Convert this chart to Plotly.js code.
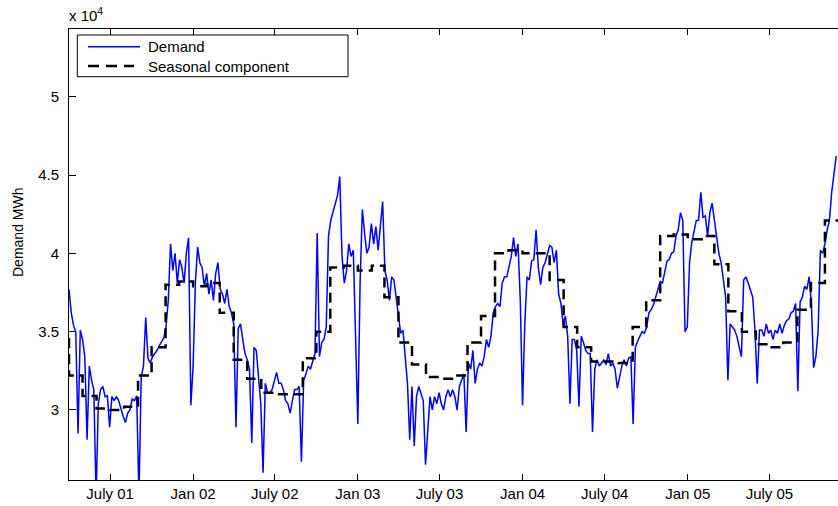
<!DOCTYPE html>
<html>
<head>
<meta charset="utf-8">
<script src="https://cdn.plot.ly/plotly-3.0.1.min.js"></script>
<style>
  html, body { margin: 0; padding: 0; background: #fff; }
  #chart { width: 838px; height: 506px; }
</style>
</head>
<body>
<div id="chart"></div>
<script>
// daily demand, one value every 5 days from 1 Apr 2001 (MWh)
var demandStart = '2001-04-01';
var demandStepDays = 5;
var demand = [
  37700, 36200, 35400, 35000, 28500, 35100, 34500, 33400, 28100, 32800,
  31900, 31300, 24500, 30400, 31300, 31500, 30850, 30900, 28900, 30850,
  30600, 30850, 30600, 30000, 29600, 29200, 29800, 30000, 30700, 30600,
  30900, 24500, 32100, 32800, 35900, 33300, 33000, 33400, 33600, 33800,
  34100, 34400, 34600, 35300, 37000, 40600, 38900, 40000, 38100, 39600,
  39100, 38100, 40000, 41000, 30300, 32800, 38100, 40400, 39400, 39100,
  37900, 38700, 37400, 38300, 37000, 38700, 39400, 37700, 37400, 36800,
  37700, 36600, 36200, 35500, 28900, 35200, 35500, 34500, 33600, 33200,
  32600, 27900, 34000, 33800, 31900, 30400, 26000, 31700, 31100, 31100,
  31300, 31900, 32400, 31700, 31700, 31300, 30600, 30400, 29800, 30600,
  31300, 31300, 31500, 26700, 31900, 32300, 32800, 32600, 33200, 33600,
  41300, 33400, 34300, 34500, 35300, 41100, 42100, 42600, 43100, 43700,
  44900, 39800, 38100, 38900, 40600, 39800, 40200, 33800, 29100, 38100,
  42800, 41300, 40000, 40400, 41900, 40600, 41700, 40200, 41900, 43300,
  38900, 38300, 37000, 38500, 38300, 37200, 36000, 34900, 35100, 33400,
  31700, 28100, 31500, 27700, 30850, 31500, 31100, 30600, 26500, 28900,
  30850, 30000, 30850, 30400, 31100, 30400, 30000, 30850, 31300, 30850,
  31300, 30850, 30000, 31500, 31900, 32300, 28600, 33000, 32600, 33800,
  31700, 32600, 33000, 32800, 33400, 34500, 34000, 34700, 36200, 36600,
  36800, 36600, 38100, 38500, 38500, 39200, 39800, 41000, 39800, 40600,
  37000, 30300, 35500, 38500, 38300, 39500, 39600, 41500, 39100, 38000,
  39100, 39400, 40000, 40500, 40400, 39400, 40200, 37400, 36800, 35500,
  36000, 34700, 30400, 34500, 34500, 33800, 30200, 34700, 34300, 33800,
  33600, 33600, 28600, 32600, 33200, 32800, 33000, 33200, 32900, 33600,
  32800, 33000, 32600, 31400, 32100, 32800, 33200, 32800, 33300, 33400,
  29100, 34000, 34400, 34700, 35000, 34900, 35300, 36200, 36400, 36700,
  37200, 37700, 38200, 38100, 38800, 39500, 39600, 40000, 40100, 41100,
  41500, 42600, 42100, 35000, 35300, 39400, 40700, 41500, 42100, 42100,
  43900, 42300, 42400, 41100, 42600, 43200, 42100, 41300, 40000, 39400,
  38100, 37200, 31900, 35500, 35300, 35100, 34700, 34000, 33400, 38300,
  38500, 38100, 37700, 37200, 35100, 31700, 35100, 35100, 34700, 35500,
  34900, 35100, 34500, 35100, 34900, 35500, 34900, 35400, 35700, 35800,
  36200, 36300, 36800, 31200, 36900, 37200, 37900, 37700, 38500, 36800,
  32700, 33400, 35100, 40200, 40000, 40600, 41500, 42100, 43900, 44900, 46200
];

// monthly seasonal level, March 2001 to December 2005 (MWh)
var seasonalStart = [2001, 2];
var seasonal = [
  34700, 32200, 30900, 30100, 30000, 30200, 32200, 34000, 38000, 38200,
  37900, 38100, 36200, 33200, 32000, 31100, 31000, 31000, 33300, 35000, 39100, 39200,
  38900, 39200, 37200, 34300, 32900, 32100, 32000, 32200, 34300, 36000, 40000, 40200,
  40000, 40000, 38300, 35300, 34000, 33100, 33100, 33000, 35300, 37000, 41100, 41200,
  40900, 41100, 39300, 36300, 35000, 34200, 34000, 34300, 36400, 38100, 42100, 42100
];

var tickDates = ['2001-07-01', '2002-01-01', '2002-07-01', '2003-01-01', '2003-07-01',
  '2004-01-01', '2004-07-01', '2005-01-01', '2005-07-01'];
var tickLabels = ['July 01', 'Jan 02', 'July 02', 'Jan 03', 'July 03',
  'Jan 04', 'July 04', 'Jan 05', 'July 05'];
var yTicks = [30000, 35000, 40000, 45000, 50000];
var yLabels = ['3', '3.5', '4', '4.5', '5'];

function isoDay(ms) {
  return new Date(ms).toISOString().slice(0, 10);
}

var t0 = Date.parse(demandStart + 'T00:00:00Z');
var demandDates = demand.map(function (v, i) {
  return isoDay(t0 + i * demandStepDays * 86400000);
});
var seasonalDates = seasonal.map(function (v, i) {
  return isoDay(Date.UTC(seasonalStart[0], seasonalStart[1] + i, 1));
});

var data = [
  {
    x: demandDates, y: demand, name: 'Demand', type: 'scatter', mode: 'lines',
    line: { color: '#0000ff', width: 1.5 }
  },
  {
    x: seasonalDates, y: seasonal, name: 'Seasonal component', type: 'scatter', mode: 'lines',
    line: { color: '#000000', width: 2.5, dash: '10px,6px', shape: 'hv' }
  }
];

// legend and y label are drawn by hand to sit where the MATLAB figure has them
function px(x) { return (x - 69) / 769; }
function py(y) { return (480 - y) / 451; }

var layout = {
  width: 838,
  height: 506,
  margin: { l: 69, r: 0, t: 29, b: 26 },
  paper_bgcolor: '#ffffff',
  plot_bgcolor: '#ffffff',
  font: { family: 'Liberation Sans, Arial, sans-serif', size: 15, color: '#000' },
  showlegend: false,
  xaxis: {
    type: 'date',
    range: ['2001-04-01', '2005-11-30'],
    tickmode: 'array', tickvals: tickDates, ticktext: tickLabels,
    ticks: 'inside', ticklen: 6, tickcolor: '#000',
    showline: true, linecolor: '#000', linewidth: 1, mirror: 'ticks',
    showgrid: false, zeroline: false
  },
  yaxis: {
    range: [25530, 54320],
    tickmode: 'array', tickvals: yTicks, ticktext: yLabels,
    ticks: 'inside', ticklen: 7, tickcolor: '#000',
    showline: true, linecolor: '#000', linewidth: 1,
    showgrid: false, zeroline: false,
    ticklabelstandoff: 6
  },
  shapes: [
    { type: 'rect', xref: 'paper', yref: 'paper', x0: px(77.3), x1: px(348), y0: py(76.7), y1: py(35),
      line: { color: '#000', width: 1 }, fillcolor: '#fff', layer: 'above' },
    { type: 'line', xref: 'paper', yref: 'paper', x0: px(88), x1: px(140), y0: py(46.7), y1: py(46.7),
      line: { color: '#0000ff', width: 1.5 }, layer: 'above' },
    { type: 'line', xref: 'paper', yref: 'paper', x0: px(88), x1: px(134), y0: py(66), y1: py(66),
      line: { color: '#000', width: 2.5, dash: '11px,7px' }, layer: 'above' }
  ],
  annotations: [
    { text: 'Demand', xref: 'paper', yref: 'paper', x: px(146), y: py(46.7),
      xanchor: 'left', yanchor: 'middle', showarrow: false, font: { size: 15 } },
    { text: 'Seasonal component', xref: 'paper', yref: 'paper', x: px(146), y: py(66),
      xanchor: 'left', yanchor: 'middle', showarrow: false, font: { size: 15 } },
    { text: 'x 10<sup>4</sup>', xref: 'paper', yref: 'paper', x: px(67), y: py(26),
      xanchor: 'left', yanchor: 'bottom', showarrow: false, font: { size: 15 } },
    { text: 'Demand MWh', xref: 'paper', yref: 'paper', x: px(18), y: py(233),
      xanchor: 'center', yanchor: 'middle', textangle: -90, showarrow: false, font: { size: 14 } }
  ]
};

Plotly.newPlot('chart', data, layout, { staticPlot: true });
</script>
</body>
</html>
